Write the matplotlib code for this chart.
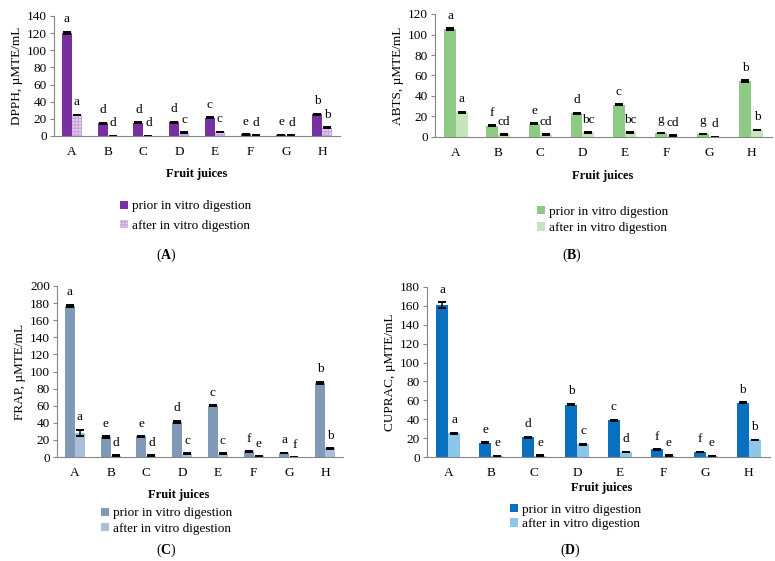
import numpy as np
import matplotlib
matplotlib.use("Agg")
import matplotlib.pyplot as plt
from matplotlib.patches import Patch

plt.rcParams["font.family"] = ["Liberation Serif", "DejaVu Serif"]
plt.rcParams["mathtext.fontset"] = "custom"
plt.rcParams["mathtext.rm"] = "Liberation Serif"
plt.rcParams["mathtext.bf"] = "Liberation Serif:bold"

JUICES = ["A", "B", "C", "D", "E", "F", "G", "H"]
SERIES = ["prior in vitro digestion", "after in vitro digestion"]

# DPPH
dpph_prior = [120, 15, 15.5, 16, 21.5, 2, 1, 25.5]
dpph_after = [24.5, 0.3, 0.3, 4, 4.5, 0.5, 0.5, 9.5]
dpph_prior_err = [1.5, 0.5, 0.5, 0.6, 0.5, 0.3, 0.3, 0.6]
dpph_after_err = [0.5, 0.1, 0.1, 0.3, 0.3, 0.1, 0.1, 0.5]
dpph_prior_let = ["a", "d", "d", "d", "c", "e", "e", "b"]
dpph_after_let = ["a", "d", "d", "c", "c", "d", "d", "b"]

# ABTS
abts_prior = [105, 11, 13, 23, 31.5, 4, 3, 54.5]
abts_after = [24, 2.5, 2.5, 4.5, 4.5, 1.5, 0, 7]
abts_prior_err = [1, 0.4, 0.4, 0.5, 0.6, 0.3, 0.3, 1]
abts_after_err = [0.8, 0.3, 0.3, 0.3, 0.3, 0.2, 0, 0.3]
abts_prior_let = ["a", "f", "e", "d", "c", "g", "g", "b"]
abts_after_let = ["a", "cd", "cd", "bc", "bc", "cd", "d", "b"]

# FRAP
frap_prior = [177, 23, 24, 41, 60, 6.5, 4.5, 86.5]
frap_after = [28, 1.5, 1.5, 4, 4, 0.8, 0, 10]
frap_prior_err = [1, 1, 0.5, 1.5, 0.7, 0.5, 0.3, 1.5]
frap_after_err = [4, 0.5, 0.5, 0.3, 0.3, 0.2, 0, 0.5]
frap_prior_let = ["a", "e", "e", "d", "c", "f", "a", "b"]
frap_after_let = ["a", "d", "d", "c", "c", "e", "f", "b"]

# CUPRAC
cuprac_prior = [161, 15, 21, 55.5, 39, 8, 5.5, 57.5]
cuprac_after = [25, 1, 1.5, 13.5, 5.5, 1.5, 1, 18]
cuprac_prior_err = [3, 0.5, 0.5, 0.7, 0.7, 0.4, 0.3, 0.4]
cuprac_after_err = [0.5, 0.2, 0.2, 0.4, 0.3, 0.2, 0.2, 0.4]
cuprac_prior_let = ["a", "e", "d", "b", "c", "f", "f", "b"]
cuprac_after_let = ["a", "e", "e", "c", "d", "e", "e", "b"]

W, H = 775, 561
BW = 0.28
FS = 9.5


def fx(px):
    return px / W


def fy(py):
    return 1 - py / H


def panel(fig, box, prior, after, perr, aerr, plet, alet, ymax, ylabel,
          colors, hatch, leg_xy, leg_sp, xlab_xy, tag, tag_xy):
    left, top, right, bottom = box
    ax = fig.add_axes([fx(left), fy(bottom), fx(right - left), (bottom - top) / H])
    x = np.arange(len(JUICES))
    ekw = dict(lw=1.1, capthick=1.4, ecolor="black")
    ax.bar(x - BW / 2, prior, BW, color=colors[0], linewidth=0,
           yerr=perr, capsize=3.2, error_kw=ekw)
    ax.bar(x + BW / 2, after, BW, color=colors[1], linewidth=0,
           edgecolor=colors[2] if hatch else None, hatch=hatch,
           yerr=aerr, capsize=3.2, error_kw=ekw)
    for i in range(len(JUICES)):
        ax.annotate(plet[i], (x[i] - BW / 2, prior[i] + perr[i]), xytext=(0, 9),
                    textcoords="offset points", ha="center", va="center", fontsize=FS)
        ax.annotate(alet[i], (x[i] + BW / 2, after[i] + aerr[i]), xytext=(0, 9),
                    textcoords="offset points", ha="center", va="center", fontsize=FS)
    ax.set_xlim(-0.5, len(JUICES) - 0.5)
    ax.set_ylim(0, ymax)
    ax.set_yticks(np.arange(0, ymax + 1, 20))
    ax.set_xticks(x)
    ax.set_xticklabels(JUICES)
    ax.tick_params(axis="x", length=0, pad=7, labelsize=FS)
    ax.tick_params(axis="y", length=3, width=0.8, color="#868686", pad=2, labelsize=FS)
    for s in ["top", "right"]:
        ax.spines[s].set_visible(False)
    for s in ["left", "bottom"]:
        ax.spines[s].set_color("#868686")
        ax.spines[s].set_linewidth(0.8)
    ax.set_ylabel(ylabel, fontsize=9.5, labelpad=3)
    fig.text(fx(xlab_xy[0]), fy(xlab_xy[1]), "Fruit juices", ha="center",
             va="center", fontsize=9, fontweight="bold")
    handles = [Patch(facecolor=colors[0], linewidth=0),
               Patch(facecolor=colors[1], edgecolor=colors[2] if hatch else None,
                     hatch=hatch, linewidth=0)]
    fig.legend(handles, SERIES, loc="center left",
               bbox_to_anchor=(fx(leg_xy[0]), fy(leg_xy[1])), frameon=False,
               fontsize=FS, handlelength=0.6, handleheight=0.6,
               handletextpad=0.3, labelspacing=leg_sp, borderpad=0,
               borderaxespad=0)
    fig.text(fx(tag_xy[0]), fy(tag_xy[1]), r"($\mathbf{%s}$)" % tag,
             ha="center", va="center", fontsize=10)
    return ax


fig = plt.figure(figsize=(W / 100, H / 100), dpi=100)

panel(fig, (54, 16, 340, 136), dpph_prior, dpph_after, dpph_prior_err,
      dpph_after_err, dpph_prior_let, dpph_after_let, 140, "DPPH, µMTE/mL",
      ("#7830A0", "#E6D6EF", "#C7A6DB"), "+++++", (120, 216), 0.55,
      (197, 174), "A", (166, 255))

panel(fig, (435, 14, 772, 137), abts_prior, abts_after, abts_prior_err,
      abts_after_err, abts_prior_let, abts_after_let, 120, "ABTS, µMTE/mL",
      ("#8DCB84", "#C5E5BD", None), None, (537, 220), 0.35,
      (603, 176), "B", (572, 255))

panel(fig, (57, 286, 343, 457), frap_prior, frap_after, frap_prior_err,
      frap_after_err, frap_prior_let, frap_after_let, 200, "FRAP, µMTE/mL",
      ("#7F99B6", "#AABFD7", None), None, (101, 521), 0.25,
      (179, 495), "C", (166, 550))

panel(fig, (427, 287, 770, 457), cuprac_prior, cuprac_after, cuprac_prior_err,
      cuprac_after_err, cuprac_prior_let, cuprac_after_let, 180, "CUPRAC, µMTE/mL",
      ("#0870BF", "#8EC5EB", None), None, (510, 517), 0.18,
      (602, 488), "D", (570, 550))

fig.savefig("out.png", dpi=100)
